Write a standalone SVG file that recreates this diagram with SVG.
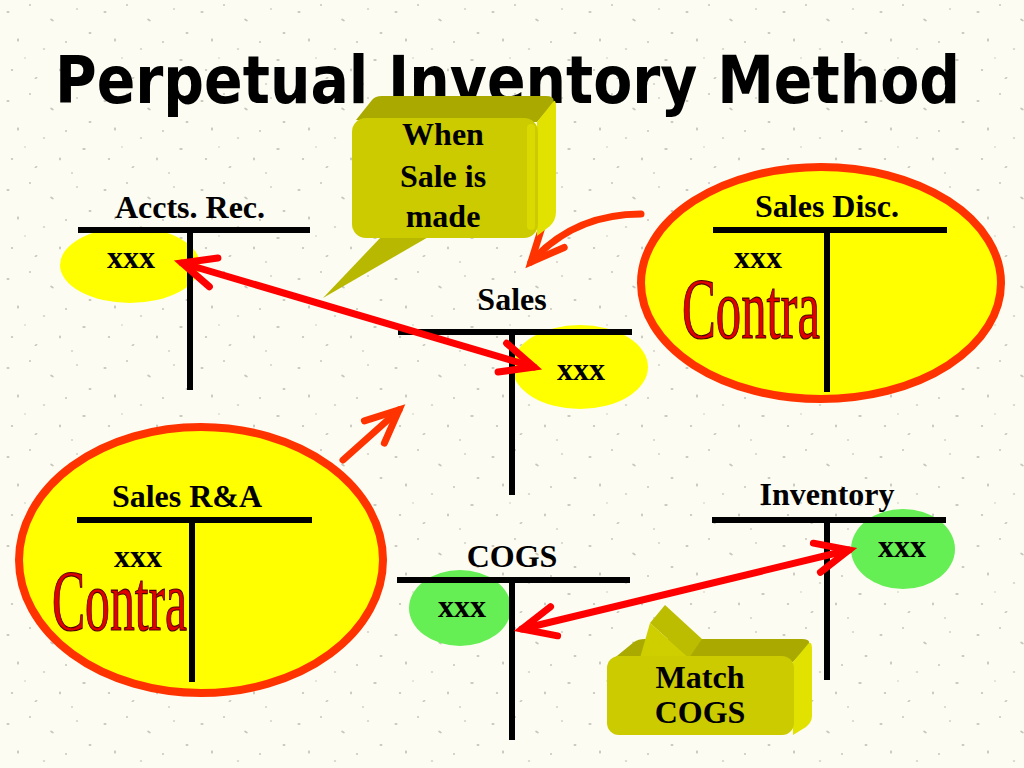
<svg xmlns="http://www.w3.org/2000/svg" width="1024" height="768" viewBox="0 0 1024 768">
<defs>
<style>
.lbl{font-family:"Liberation Serif","Times New Roman",serif;font-weight:bold;font-size:32px;fill:#000;text-anchor:middle}
.tline{stroke:#000;stroke-width:6;fill:none}
.contra{font-family:"Liberation Serif","Times New Roman",serif;font-size:86px;fill:#e00000;stroke:#4a0000;stroke-width:1.2}
.big{fill:#ffff00;stroke:#ff3300;stroke-width:8}
.red{stroke:#ff0000;stroke-width:7;fill:none;stroke-linecap:round}
.orng{stroke:#ff3300;stroke-width:7;fill:none;stroke-linecap:round}
</style>
<pattern id="speck" width="97" height="89" patternUnits="userSpaceOnUse">
<g fill="#9a9a90" opacity="0.55">
<ellipse cx="8" cy="12" rx="1.6" ry="0.9"/>
<ellipse cx="30" cy="5" rx="1" ry="1"/>
<ellipse cx="52" cy="20" rx="2" ry="1" transform="rotate(30 52 20)"/>
<ellipse cx="77" cy="9" rx="1.2" ry="0.8"/>
<ellipse cx="90" cy="33" rx="1.5" ry="1"/>
<ellipse cx="18" cy="40" rx="1" ry="1.8"/>
<ellipse cx="44" cy="49" rx="1.3" ry="0.8"/>
<ellipse cx="66" cy="42" rx="1" ry="1"/>
<ellipse cx="84" cy="60" rx="1.8" ry="1"/>
<ellipse cx="12" cy="70" rx="1.2" ry="1"/>
<ellipse cx="36" cy="78" rx="1.6" ry="0.9" transform="rotate(-25 36 78)"/>
<ellipse cx="60" cy="70" rx="1" ry="1.4"/>
<ellipse cx="72" cy="84" rx="1.2" ry="0.8"/>
<ellipse cx="25" cy="58" rx="0.8" ry="0.8"/>
</g>
</pattern>
<marker id="hr" markerUnits="userSpaceOnUse" markerWidth="60" markerHeight="60" refX="0" refY="0" viewBox="-50 -30 60 60" orient="auto-start-reverse" overflow="visible">
<path d="M-33,-15 L0,0 L-33,15" fill="none" stroke="#ff0000" stroke-width="7" stroke-linecap="round" stroke-linejoin="miter"/>
</marker>
<marker id="ho" markerUnits="userSpaceOnUse" markerWidth="60" markerHeight="60" refX="0" refY="0" viewBox="-50 -30 60 60" orient="auto" overflow="visible">
<path d="M-33,-15 L0,0 L-33,15" fill="none" stroke="#ff3300" stroke-width="7" stroke-linecap="round" stroke-linejoin="miter"/>
</marker>
</defs>

<rect width="1024" height="768" fill="#fcfcf2"/>
<rect width="1024" height="768" fill="url(#speck)"/>

<text id="title" x="55" y="103" font-family="'DejaVu Sans','Noto Sans',sans-serif" font-weight="bold" font-size="66" textLength="905" lengthAdjust="spacingAndGlyphs" fill="#000">Perpetual Inventory Method</text>

<g id="accts-rec">
<ellipse cx="130" cy="265" rx="70" ry="38" fill="#ffff00"/>
<path class="tline" d="M78,230 H310 M190,230 V390"/>
<text class="lbl" x="190" y="218">Accts. Rec.</text>
<text class="lbl" x="131" y="268">xxx</text>
</g>

<g id="sales">
<ellipse cx="580" cy="367" rx="68" ry="42" fill="#ffff00"/>
<path class="tline" d="M398,332 H632 M512,332 V495"/>
<text class="lbl" x="512" y="310">Sales</text>
<text class="lbl" x="581" y="380">xxx</text>
</g>

<g id="cogs">
<ellipse cx="460" cy="608" rx="51" ry="38" fill="#66ee55"/>
<path class="tline" d="M397,580 H630 M512,580 V740"/>
<text class="lbl" x="512" y="567">COGS</text>
<text class="lbl" x="462" y="617">xxx</text>
</g>

<g id="inventory">
<ellipse cx="903" cy="549" rx="52" ry="40" fill="#66ee55"/>
<path class="tline" d="M712,520 H946 M827,520 V680"/>
<text class="lbl" x="827" y="505">Inventory</text>
<text class="lbl" x="902" y="557">xxx</text>
</g>

<g id="connectors">
<path class="orng" d="M641,214 Q574,214 531,262" marker-end="url(#ho)"/>
<path class="orng" d="M343,460 L399,410" marker-end="url(#ho)"/>
</g>

<g id="sales-disc">
<ellipse class="big" cx="821" cy="283" rx="180" ry="116"/>
<path class="tline" d="M713,230 H947 M827,230 V392"/>
<text class="lbl" x="827" y="217">Sales Disc.</text>
<text class="lbl" x="758" y="268">xxx</text>
<text class="contra" x="682" y="338" textLength="138" lengthAdjust="spacingAndGlyphs">Contra</text>
</g>

<g id="sales-ra">
<ellipse class="big" cx="201" cy="560" rx="182" ry="133"/>
<path class="tline" d="M77,520 H312 M192,520 V682"/>
<text class="lbl" x="187" y="507">Sales R&amp;A</text>
<text class="lbl" x="138" y="567">xxx</text>
<text class="contra" x="52" y="630" textLength="135" lengthAdjust="spacingAndGlyphs">Contra</text>
</g>

<g id="connectors-main">
<path class="red" d="M182,263 L534,367" marker-start="url(#hr)" marker-end="url(#hr)"/>
<path class="red" d="M522,629 L849,550" marker-start="url(#hr)" marker-end="url(#hr)"/>
</g>

<g id="callout-when">
<polygon points="382,236 430,236 323,298" fill="#b8b800"/>
<path d="M356,120 L372,100 Q375,96 382,96 L546,96 Q556,96 553,104 L537,122 Z" fill="#a9a900"/>
<path d="M537,122 L553,102 Q556,98 556,108 L556,212 Q556,220 550,226 L537,236 Z" fill="#e2e200"/>
<rect x="352" y="118" width="186" height="120" rx="14" fill="#cbcb00"/>
<rect x="527" y="124" width="8" height="106" rx="4" fill="#dada00"/>
<text class="lbl" x="443" y="145">When</text>
<text class="lbl" x="443" y="187">Sale is</text>
<text class="lbl" x="443" y="227">made</text>
</g>

<g id="callout-match">
<path d="M612,660 L634,642 Q638,639 645,639 L802,639 Q812,639 808,646 L793,662 Z" fill="#a9a900"/>
<path d="M793,662 L808,644 Q812,640 812,650 L812,716 Q812,722 806,727 L793,735 Z" fill="#e2e200"/>
<polygon points="650,623 665,605 702,639 689,658" fill="#bcbc00"/>
<polygon points="650,623 689,658 640,658" fill="#cfcf00"/>
<rect x="607" y="656" width="187" height="79" rx="12" fill="#cbcb00"/>
<text class="lbl" x="700" y="688">Match</text>
<text class="lbl" x="700" y="723">COGS</text>
</g>
</svg>
